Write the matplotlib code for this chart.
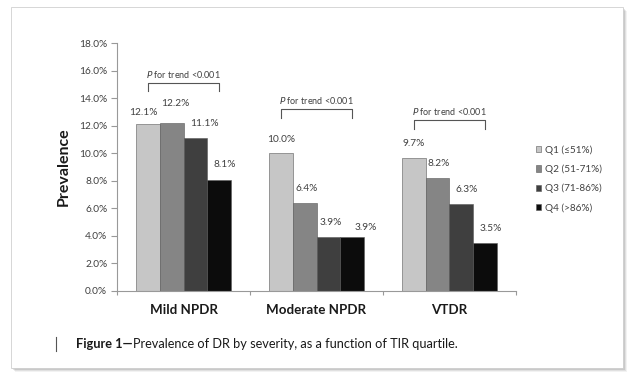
import matplotlib
matplotlib.use("Agg")
import matplotlib.pyplot as plt
from matplotlib.patches import Rectangle
import numpy as np

categories = ["Mild NPDR", "Moderate NPDR", "VTDR"]
series = ["Q1 (\u226451%)", "Q2 (51-71%)", "Q3 (71-86%)", "Q4 (>86%)"]
q1 = [12.1, 10.0, 9.7]
q2 = [12.2, 6.4, 8.2]
q3 = [11.1, 3.9, 6.3]
q4 = [8.1, 3.9, 3.5]
trend_text = "for trend <0.001"
yticks = [0, 2, 4, 6, 8, 10, 12, 14, 16, 18]
caption_bold = "Figure 1\u2014"
caption_rest = "Prevalence of DR by severity, as a function of TIR quartile."

colors = ["#c6c6c6", "#858585", "#3f3f3f", "#0c0c0c"]
# label offsets in pixels (dx, dy) per series per category
label_off = [
    [(-4, 7), (1, 9), (0, 10)],
    [(4, 15), (2, 10), (1, 10)],
    [(9, 10), (2, 10), (5, 10)],
    [(5, 11), (13, 5), (5, 10)],
]
bracket_top = [15.1, 13.2, 12.4]
bracket_drop = 0.6

plt.rcParams['font.family'] = ['Lato', 'DejaVu Sans']
fig = plt.figure(figsize=(6.31, 3.83), dpi=100)
W, H = 631, 383

# frame with shadow
for i, a in enumerate([0.05, 0.07, 0.10, 0.14]):
    off = 4 - i
    fig.patches.append(Rectangle(((11 + off) / W, 1 - (368 + off) / H),
                                 612 / W, 361 / H, transform=fig.transFigure,
                                 facecolor="#000000", alpha=a, edgecolor="none", zorder=-3))
fig.patches.append(Rectangle((11 / W, 1 - 368 / H), 612 / W, 361 / H,
                             transform=fig.transFigure, facecolor="white",
                             edgecolor="#d0d0d0", linewidth=0.6, zorder=-2))

ax = fig.add_axes([117 / W, 1 - 291 / H, (516 - 117) / W, (291 - 43.3) / H])
ax.set_zorder(2)
ax.set_facecolor("none")
x = np.arange(len(categories))
bw = 0.18
data = [q1, q2, q3, q4]
for i, (vals, c) in enumerate(zip(data, colors)):
    pos = x + (i - 1.5) * bw
    ax.bar(pos, vals, bw, color=c, edgecolor="#5a5a5a", linewidth=0.4, label=series[i], zorder=2)
    for j, v in enumerate(vals):
        dx, dy = label_off[i][j]
        ax.annotate(f"{v:.1f}%", (pos[j], v), xytext=(dx, dy), textcoords="offset pixels",
                    ha="center", va="bottom", fontsize=7.3, color="#404040")

# trend brackets
for j in range(len(categories)):
    x0 = x[j] - 1.5 * bw
    x1 = x[j] + 1.5 * bw
    t = bracket_top[j]
    ax.plot([x0, x0, x1, x1], [t - bracket_drop, t, t, t - bracket_drop],
            color="#555555", linewidth=0.8, zorder=3)
    ax.annotate("$\\it{P}$ " + trend_text, ((x0 + x1) / 2, t), xytext=(0, 3),
                textcoords="offset pixels", ha="center", va="bottom",
                fontsize=6.5, color="#404040")

ax.set_xlim(-0.5, 2.5)
ax.set_ylim(0, 18)
ax.set_yticks(yticks)
ax.set_yticklabels([f"{v:.1f}%" for v in yticks], fontsize=7.3, color="#404040")
ax.set_xticks([-0.5, 0.5, 1.5, 2.5], minor=False)
ax.set_xticklabels([])
ax.set_xticks(x, minor=True)
ax.set_xticklabels(categories, minor=True, fontsize=9.6, fontweight="bold", color="#1a1a1a")
ax.tick_params(axis="x", which="minor", length=0, pad=9)
ax.tick_params(axis="x", which="major", length=3, color="#999999", direction="out")
ax.tick_params(axis="y", length=4, color="#999999", pad=3)
for s in ["top", "right"]:
    ax.spines[s].set_visible(False)
for s in ["left", "bottom"]:
    ax.spines[s].set_color("#999999")
    ax.spines[s].set_linewidth(0.8)
ax.set_ylabel("Prevalence", fontsize=11.5, fontweight="bold", color="#1a1a1a", labelpad=6)

leg = ax.legend(loc="upper left", bbox_to_anchor=(1.04, 0.605), frameon=False, fontsize=7.2,
                handlelength=0.55, handleheight=0.55, handletextpad=0.4, labelspacing=0.98,
                borderaxespad=0)
for t in leg.get_texts():
    t.set_color("#404040")

# caption
fig.lines.append(plt.Line2D([56 / W, 56 / W], [1 - 337 / H, 1 - 351 / H],
                            transform=fig.transFigure, color="#555555", linewidth=0.8))
tb = fig.text(76 / W, 1 - 344 / H, caption_bold, fontsize=9.2, fontweight="bold",
              va="center", ha="left", color="#1a1a1a")
fig.canvas.draw()
bb = tb.get_window_extent()
fig.text(bb.x1 / W, 1 - 344 / H, caption_rest, fontsize=9.2, va="center", ha="left",
         color="#1a1a1a")

fig.savefig("out.png", dpi=100)
